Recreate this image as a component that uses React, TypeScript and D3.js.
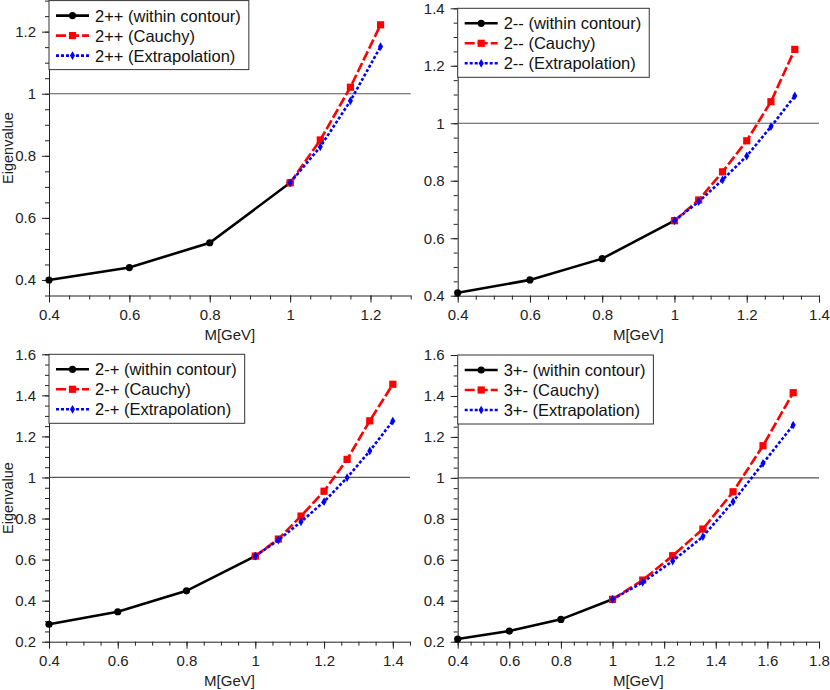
import { useEffect, useRef } from 'react'
import * as d3 from 'd3'

// masses inside the contour (same for all four channels)
const contourM = [0.4, 0.6, 0.8, 1.0]

// 2++
const m2pp = [1.0, 1.075, 1.15, 1.225]
const within2pp = [0.4, 0.44, 0.52, 0.713]
const cauchy2pp = [0.713, 0.851, 1.021, 1.222]
const extrap2pp = [0.713, 0.829, 0.977, 1.152]

// 2--
const m2mm = [1.0, 1.067, 1.133, 1.2, 1.267, 1.333]
const within2mm = [0.41, 0.455, 0.529, 0.661]
const cauchy2mm = [0.661, 0.733, 0.831, 0.939, 1.075, 1.257]
const extrap2mm = [0.661, 0.727, 0.803, 0.886, 0.988, 1.095]

// 2-+
const m2mp = [1.0, 1.067, 1.133, 1.2, 1.267, 1.333, 1.4]
const within2mp = [0.285, 0.346, 0.448, 0.617]
const cauchy2mp = [0.617, 0.7, 0.812, 0.933, 1.088, 1.276, 1.454]
const extrap2mp = [0.617, 0.695, 0.784, 0.882, 0.999, 1.129, 1.275]

// 3+-
const m3pm = [1.0, 1.117, 1.233, 1.35, 1.467, 1.583, 1.7]
const within3pm = [0.213, 0.252, 0.309, 0.407]
const cauchy3pm = [0.407, 0.501, 0.62, 0.75, 0.932, 1.157, 1.416]
const extrap3pm = [0.407, 0.49, 0.594, 0.713, 0.884, 1.071, 1.258]

// axis ticks
const xTicksA = [0.4, 0.6, 0.8, 1, 1.2]
const xTicksB = [0.4, 0.6, 0.8, 1, 1.2, 1.4]
const xTicksC = [0.4, 0.6, 0.8, 1, 1.2, 1.4, 1.6, 1.8]
const yTicksA = [0.4, 0.6, 0.8, 1, 1.2]
const yTicksB = [0.4, 0.6, 0.8, 1, 1.2, 1.4]
const yTicksC = [0.2, 0.4, 0.6, 0.8, 1, 1.2, 1.4, 1.6]

const FONT = '"Liberation Sans", Arial, sans-serif'

interface Panel {
  name: string
  mExt: number[]
  within: number[]
  cauchy: number[]
  extrap: number[]
  xDomain: [number, number]
  yDomain: [number, number]
  xTicks: number[]
  yTicks: number[]
  left: number
  right: number
  top: number
  bottom: number
  yTitle: boolean
}

const panels: Panel[] = [
  { name: '2++', mExt: m2pp, within: within2pp, cauchy: cauchy2pp, extrap: extrap2pp,
    xDomain: [0.4, 1.3], yDomain: [0.35, 1.3], xTicks: xTicksA, yTicks: yTicksA,
    left: 49, right: 410.7, top: 0.6, bottom: 295.5, yTitle: true },
  { name: '2--', mExt: m2mm, within: within2mm, cauchy: cauchy2mm, extrap: extrap2mm,
    xDomain: [0.4, 1.4], yDomain: [0.4, 1.4], xTicks: xTicksB, yTicks: yTicksB,
    left: 457.7, right: 819, top: 8.3, bottom: 295.7, yTitle: false },
  { name: '2-+', mExt: m2mp, within: within2mp, cauchy: cauchy2mp, extrap: extrap2mp,
    xDomain: [0.4, 1.45], yDomain: [0.2, 1.6], xTicks: xTicksB, yTicks: yTicksC,
    left: 49, right: 410, top: 354.3, bottom: 641.7, yTitle: true },
  { name: '3+-', mExt: m3pm, within: within3pm, cauchy: cauchy3pm, extrap: extrap3pm,
    xDomain: [0.4, 1.8], yDomain: [0.2, 1.6], xTicks: xTicksC, yTicks: yTicksC,
    left: 457.7, right: 819, top: 355, bottom: 641.7, yTitle: false },
]

const styles = {
  within: { color: '#000', dash: null as string | null, marker: 'circle' },
  cauchy: { color: '#ff0000', dash: '10,3', marker: 'square' },
  extrap: { color: '#0000ff', dash: '3,2', marker: 'diamond' },
}

function drawMarker(g: d3.Selection<SVGGElement, unknown, null, undefined>, kind: string, color: string, x: number, y: number) {
  if (kind === 'circle') {
    g.append('circle').attr('cx', x).attr('cy', y).attr('r', 3.6).attr('fill', color)
  } else if (kind === 'square') {
    g.append('rect').attr('x', x - 3.6).attr('y', y - 3.6).attr('width', 7.2).attr('height', 7.2).attr('fill', color)
  } else {
    g.append('path')
      .attr('d', d3.symbol(d3.symbolDiamond, 22)())
      .attr('transform', `translate(${x},${y})`)
      .attr('fill', color)
  }
}

export default function App() {
  const svgRef = useRef<SVGSVGElement>(null)

  useEffect(() => {
    if (!svgRef.current) return
    const svg = d3.select(svgRef.current)
    svg.selectAll('*').remove()

    panels.forEach(p => {
      const x = d3.scaleLinear().domain(p.xDomain).range([p.left, p.right])
      const y = d3.scaleLinear().domain(p.yDomain).range([p.bottom, p.top])
      const g = svg.append('g')

      const minorX = d3.range(p.xDomain[0], p.xDomain[1] + 1e-9, 0.05)
      const minorY = d3.range(p.yDomain[0], p.yDomain[1] + 1e-9, 0.05)

      // minor ticks
      g.append('g')
        .attr('transform', `translate(0,${p.bottom})`)
        .call(d3.axisBottom(x).tickValues(minorX).tickSize(4).tickFormat(() => ''))
        .call(s => s.select('.domain').remove())
      g.append('g')
        .attr('transform', `translate(${p.left},0)`)
        .call(d3.axisLeft(y).tickValues(minorY).tickSize(4).tickFormat(() => ''))
        .call(s => s.select('.domain').remove())

      // major ticks + labels
      const xa = g.append('g')
        .attr('transform', `translate(0,${p.bottom})`)
        .call(d3.axisBottom(x).tickValues(p.xTicks).tickSize(7).tickSizeOuter(0).tickPadding(7).tickFormat(d => String(d)))
      const ya = g.append('g')
        .attr('transform', `translate(${p.left},0)`)
        .call(d3.axisLeft(y).tickValues(p.yTicks).tickSize(7).tickSizeOuter(0).tickPadding(6).tickFormat(d => String(d)))
      ;[xa, ya].forEach(a => {
        a.selectAll('text').style('font-family', FONT).style('font-size', '15px').attr('fill', '#222')
        a.select('.domain').attr('stroke', '#222')
      })
      g.selectAll('line').attr('stroke', '#222')

      // reference line at eigenvalue 1
      g.append('line')
        .attr('x1', p.left).attr('x2', p.right)
        .attr('y1', y(1)).attr('y2', y(1))
        .attr('stroke', '#555').attr('stroke-width', 1.2)

      // series
      const series = [
        { key: 'within', ms: contourM, vs: p.within, label: `${p.name} (within contour)` },
        { key: 'cauchy', ms: p.mExt, vs: p.cauchy, label: `${p.name} (Cauchy)` },
        { key: 'extrap', ms: p.mExt, vs: p.extrap, label: `${p.name} (Extrapolation)` },
      ]
      const line = d3.line<[number, number]>().x(d => x(d[0])).y(d => y(d[1]))
      series.forEach(s => {
        const st = styles[s.key as keyof typeof styles]
        const pts = s.ms.map((m, i) => [m, s.vs[i]] as [number, number])
        g.append('path')
          .attr('d', line(pts))
          .attr('fill', 'none')
          .attr('stroke', st.color)
          .attr('stroke-width', 2.6)
          .attr('stroke-dasharray', st.dash)
        const mg = g.append('g')
        pts.forEach(d => drawMarker(mg, st.marker, st.color, x(d[0]), y(d[1])))
      })

      // legend
      const lg = g.append('g')
      const box = lg.append('rect')
        .attr('x', p.left).attr('y', p.top)
        .attr('height', 69)
        .attr('fill', '#fff').attr('stroke', '#333').attr('stroke-width', 1)
      let maxW = 0
      series.forEach((s, i) => {
        const st = styles[s.key as keyof typeof styles]
        const ry = p.top + 15 + i * 20
        lg.append('line')
          .attr('x1', p.left + 7).attr('x2', p.left + 40)
          .attr('y1', ry).attr('y2', ry)
          .attr('stroke', st.color).attr('stroke-width', 2.6)
          .attr('stroke-dasharray', st.dash)
        drawMarker(lg, st.marker, st.color, p.left + 23.5, ry)
        const t = lg.append('text')
          .attr('x', p.left + 46).attr('y', ry)
          .attr('dy', '0.36em')
          .style('font-family', FONT).style('font-size', '16.5px')
          .attr('fill', '#111')
          .text(s.label)
        maxW = Math.max(maxW, (t.node() as SVGTextElement).getComputedTextLength())
      })
      box.attr('width', 46 + maxW + 8)

      // axis titles
      g.append('text')
        .attr('x', (p.left + p.right) / 2).attr('y', p.bottom + 44)
        .attr('text-anchor', 'middle')
        .style('font-family', FONT).style('font-size', '15px')
        .attr('fill', '#222')
        .text('M[GeV]')
      if (p.yTitle) {
        g.append('text')
          .attr('transform', `translate(13,${(p.top + p.bottom) / 2}) rotate(-90)`)
          .attr('text-anchor', 'middle')
          .style('font-family', FONT).style('font-size', '14.5px')
          .attr('fill', '#222')
          .text('Eigenvalue')
      }
    })
  }, [])

  return (
    <svg
      ref={svgRef}
      width={830}
      height={690}
      style={{ position: 'absolute', left: 0, top: 0, background: '#fff' }}
    />
  )
}
